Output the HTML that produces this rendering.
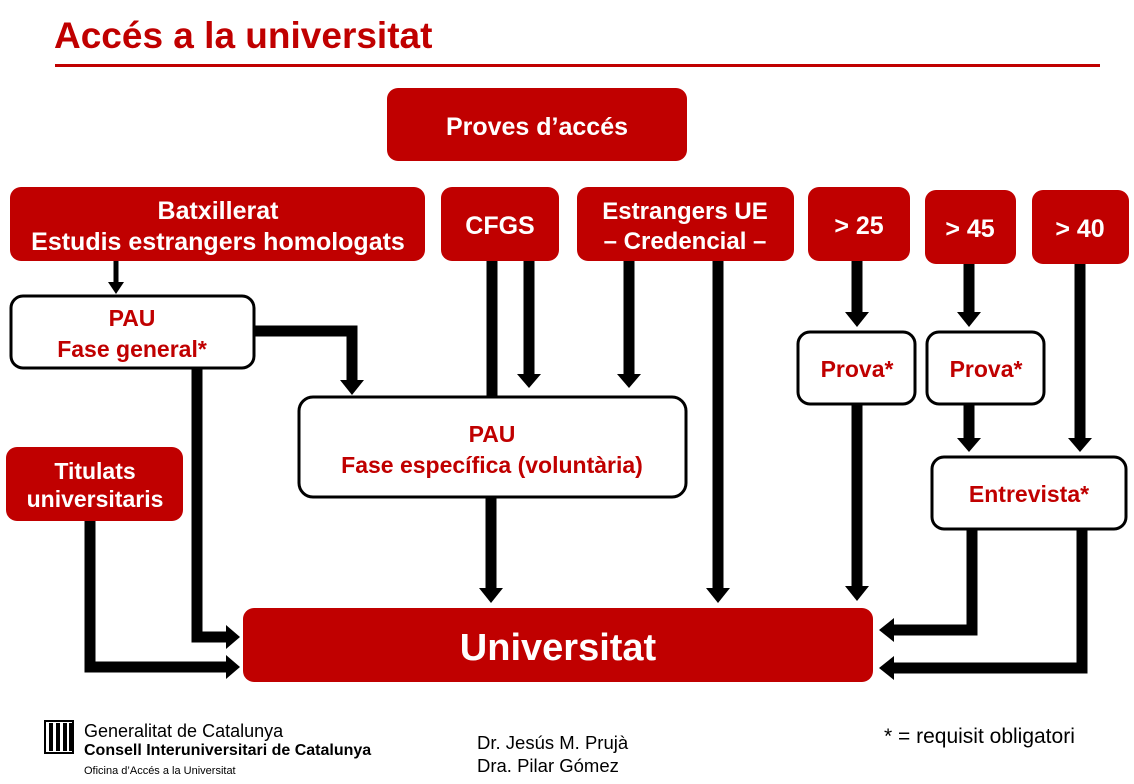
<!DOCTYPE html>
<html><head><meta charset="utf-8"><style>
html,body{margin:0;padding:0;background:#fff;width:1134px;height:784px;overflow:hidden}
svg{display:block}
text{font-family:"Liberation Sans",Arial,sans-serif;font-weight:bold}
.w{fill:#fff}.r{fill:#C00000}
</style></head><body>
<svg width="1134" height="784" viewBox="0 0 1134 784">
<text x="54" y="48" font-size="37" class="r">Accés a la universitat</text>
<rect x="55" y="64" width="1045" height="3" fill="#C00000"/>

<g fill="#C00000">
<rect x="387" y="88" width="300" height="73" rx="11"/>
<rect x="10" y="187" width="415" height="74" rx="11"/>
<rect x="441" y="187" width="118" height="74" rx="11"/>
<rect x="577" y="187" width="217" height="74" rx="11"/>
<rect x="808" y="187" width="102" height="74" rx="11"/>
<rect x="925" y="190" width="91" height="74" rx="11"/>
<rect x="1032" y="190" width="97" height="74" rx="11"/>
<rect x="6" y="447" width="177" height="74" rx="11"/>
<rect x="243" y="608" width="630" height="74" rx="11"/>
</g>
<g fill="#fff" stroke="#000" stroke-width="3">
<rect x="11" y="296" width="243" height="72" rx="12"/>
<rect x="299" y="397" width="387" height="100" rx="14"/>
<rect x="798" y="332" width="117" height="72" rx="12"/>
<rect x="927" y="332" width="117" height="72" rx="12"/>
<rect x="932" y="457" width="194" height="72" rx="12"/>
</g>

<g stroke="#000" stroke-width="11" fill="none">
<line x1="116" y1="261" x2="116" y2="284" stroke-width="5"/>
<polyline points="254,331 352,331 352,382"/>
<polyline points="197,368 197,637 228,637"/>
<polyline points="90,521 90,667 228,667"/>
<line x1="492" y1="261" x2="492" y2="397"/>
<line x1="529" y1="261" x2="529" y2="376"/>
<line x1="629" y1="261" x2="629" y2="376"/>
<line x1="718" y1="261" x2="718" y2="590"/>
<line x1="491" y1="497" x2="491" y2="590"/>
<line x1="857" y1="261" x2="857" y2="314"/>
<line x1="857" y1="404" x2="857" y2="588"/>
<line x1="969" y1="264" x2="969" y2="314"/>
<line x1="969" y1="404" x2="969" y2="440"/>
<line x1="1080" y1="264" x2="1080" y2="440"/>
<polyline points="972,529 972,630 892,630"/>
<polyline points="1082,529 1082,668 892,668"/>
</g>
<g fill="#000">
<polygon points="108,282 124,282 116,294"/>
<polygon points="340,380 364,380 352,395"/>
<polygon points="226,625 226,649 240,637"/>
<polygon points="226,655 226,679 240,667"/>
<polygon points="517,374 541,374 529,388"/>
<polygon points="617,374 641,374 629,388"/>
<polygon points="706,588 730,588 718,603"/>
<polygon points="479,588 503,588 491,603"/>
<polygon points="845,312 869,312 857,327"/>
<polygon points="845,586 869,586 857,601"/>
<polygon points="957,312 981,312 969,327"/>
<polygon points="957,438 981,438 969,452"/>
<polygon points="1068,438 1092,438 1080,452"/>
<polygon points="894,618 894,642 879,630"/>
<polygon points="894,656 894,680 879,668"/>
</g>

<g text-anchor="middle" class="w">
<text x="537" y="135" font-size="25">Proves d’accés</text>
<text x="218" y="219" font-size="25">Batxillerat</text>
<text x="218" y="250" font-size="25">Estudis estrangers homologats</text>
<text x="500" y="234" font-size="25">CFGS</text>
<text x="685" y="219" font-size="24">Estrangers UE</text>
<text x="685" y="249" font-size="24">– Credencial –</text>
<text x="859" y="234" font-size="25">&gt; 25</text>
<text x="970" y="237" font-size="25">&gt; 45</text>
<text x="1080" y="237" font-size="25">&gt; 40</text>
<text x="95" y="479" font-size="23">Titulats</text>
<text x="95" y="507" font-size="23">universitaris</text>
<text x="558" y="660" font-size="38">Universitat</text>
</g>
<g text-anchor="middle" class="r">
<text x="132" y="326" font-size="23">PAU</text>
<text x="132" y="357" font-size="23">Fase general*</text>
<text x="492" y="442" font-size="23">PAU</text>
<text x="492" y="473" font-size="23">Fase específica (voluntària)</text>
<text x="857" y="377" font-size="23">Prova*</text>
<text x="986" y="377" font-size="23">Prova*</text>
<text x="1029" y="502" font-size="23">Entrevista*</text>
</g>

<g>
<rect x="45" y="721" width="28" height="32" fill="#fff" stroke="#000" stroke-width="2"/>
<g fill="#000"><rect x="49" y="723" width="4" height="28"/><rect x="56" y="723" width="4" height="28"/><rect x="63" y="723" width="4" height="28"/><rect x="69" y="723" width="3" height="28"/></g>
</g>
<g fill="#000">
<text x="84" y="737" font-size="18" style="font-weight:normal">Generalitat de Catalunya</text>
<text x="84" y="755" font-size="16">Consell Interuniversitari de Catalunya</text>
<text x="84" y="774" font-size="11" style="font-weight:normal">Oficina d’Accés a la Universitat</text>
<text x="477" y="749" font-size="18.5" style="font-weight:normal">Dr. Jesús M. Prujà</text>
<text x="477" y="772" font-size="18.5" style="font-weight:normal">Dra. Pilar Gómez</text>
<text x="884" y="743" font-size="21" style="font-weight:normal">* = requisit obligatori</text>
</g>
</svg>
</body></html>
